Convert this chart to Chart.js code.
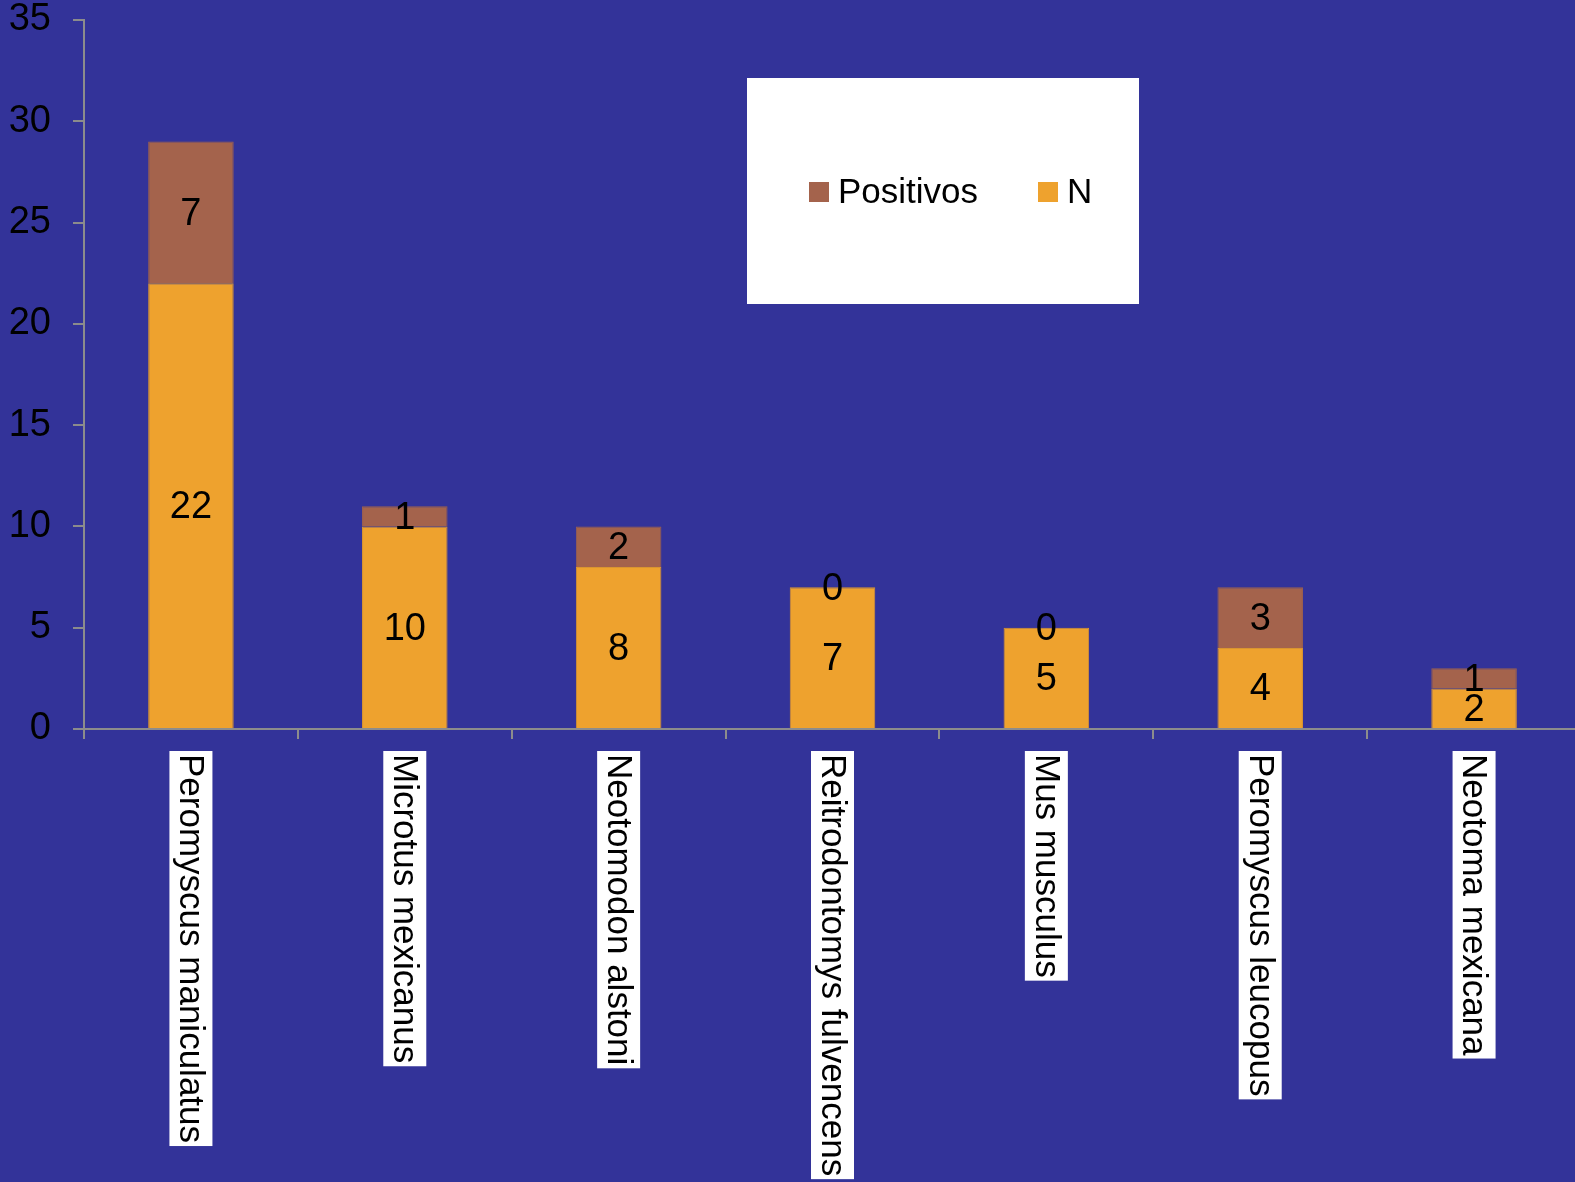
<!DOCTYPE html>
<html>
<head>
<meta charset="utf-8">
<script src="https://cdn.jsdelivr.net/npm/chart.js@4/dist/chart.umd.min.js"></script>
<style>
  html, body { margin: 0; padding: 0; background: #333399; overflow: hidden; }
  canvas { display: block; }
</style>
</head>
<body>
<canvas id="chart" width="1581" height="1182"></canvas>
<script>
// Rodent species sampled, stacked N + positives

const species = [
  'Peromyscus maniculatus',
  'Microtus mexicanus',
  'Neotomodon alstoni',
  'Reitrodontomys fulvencens',
  'Mus musculus',
  'Peromyscus leucopus',
  'Neotoma mexicana'
];
const nValues = [22, 10, 8, 7, 5, 4, 2];
const positivos = [7, 1, 2, 0, 0, 3, 1];
const yTicks = [0, 5, 10, 15, 20, 25, 30, 35];

const FONT = '"Liberation Sans", Arial, sans-serif';
const AXIS_GREY = '#8c8c8c';

// value labels centred in each stacked segment
const valueLabels = {
  id: 'valueLabels',
  afterDatasetsDraw(chart) {
    const ctx = chart.ctx;
    ctx.save();
    ctx.font = '38px ' + FONT;
    ctx.fillStyle = '#000';
    ctx.textAlign = 'center';
    ctx.textBaseline = 'middle';
    chart.data.datasets.forEach((ds, i) => {
      chart.getDatasetMeta(i).data.forEach((bar, j) => {
        const mid = (bar.y + bar.base) / 2;
        ctx.fillText(String(ds.data[j]), bar.x, mid + 2);
      });
    });
    ctx.restore();
  }
};

// species names, turned to read downwards on white strips
const categoryLabels = {
  id: 'categoryLabels',
  afterDraw(chart) {
    const ctx = chart.ctx;
    const xScale = chart.scales.x;
    const top = xScale.top + 22;
    const pad = 3;
    const h = 43;
    ctx.save();
    ctx.font = '35px ' + FONT;
    ctx.textBaseline = 'middle';
    ctx.textAlign = 'left';
    chart.data.labels.forEach((label, i) => {
      const x = xScale.getPixelForValue(i);
      const w = ctx.measureText(label).width + pad * 2;
      ctx.save();
      ctx.translate(x, top);
      ctx.rotate(Math.PI / 2);
      ctx.fillStyle = '#fff';
      ctx.fillRect(0, -h / 2, w, h);
      ctx.fillStyle = '#000';
      ctx.fillText(label, pad, 1);
      ctx.restore();
    });
    ctx.restore();
  }
};

// boxed legend sitting inside the plot
const boxLegend = {
  id: 'boxLegend',
  afterDraw(chart) {
    const ctx = chart.ctx;
    const bx = 747, by = 78, bw = 392, bh = 226;
    ctx.save();
    ctx.fillStyle = '#fff';
    ctx.fillRect(bx, by, bw, bh);
    ctx.font = '35px ' + FONT;
    ctx.textBaseline = 'middle';
    ctx.textAlign = 'left';
    const items = chart.data.datasets.slice().reverse();
    const xs = [809, 1038];
    const cy = by + 114;
    items.forEach((ds, k) => {
      ctx.fillStyle = ds.backgroundColor;
      ctx.fillRect(xs[k], cy - 10, 20, 20);
      ctx.fillStyle = '#000';
      ctx.fillText(ds.label, xs[k] + 29, cy + 1);
    });
    ctx.restore();
  }
};

new Chart(document.getElementById('chart'), {
  type: 'bar',
  data: {
    labels: species,
    datasets: [
      {
        label: 'N',
        data: nValues,
        backgroundColor: '#EEA22E',
        borderColor: '#D99530',
        borderWidth: 1,
        barPercentage: 0.4,
        categoryPercentage: 1.0
      },
      {
        label: 'Positivos',
        data: positivos,
        backgroundColor: '#A4634C',
        borderColor: '#9A6050',
        borderWidth: 1,
        barPercentage: 0.4,
        categoryPercentage: 1.0
      }
    ]
  },
  options: {
    responsive: false,
    animation: false,
    layout: { padding: { top: 20, left: 0, right: 0, bottom: 0 } },
    plugins: {
      legend: { display: false },
      tooltip: { enabled: false }
    },
    scales: {
      x: {
        stacked: true,
        afterFit(scale) {
          scale.height = 453;
          scale.paddingLeft = 0;
          scale.paddingRight = 0;
        },
        grid: {
          offset: true,
          drawOnChartArea: false,
          drawTicks: true,
          tickLength: 10,
          color: AXIS_GREY,
          lineWidth: 2
        },
        border: { color: AXIS_GREY, width: 2 },
        ticks: { callback: () => '', padding: 0 }
      },
      y: {
        stacked: true,
        min: 0,
        max: 35,
        afterFit(scale) {
          scale.width = 84;
          scale.paddingTop = 0;
          scale.paddingBottom = 0;
        },
        afterBuildTicks(scale) {
          scale.ticks = yTicks.map(v => ({ value: v }));
        },
        grid: {
          drawOnChartArea: false,
          drawTicks: true,
          tickLength: 11,
          color: AXIS_GREY,
          lineWidth: 2
        },
        border: { color: AXIS_GREY, width: 2 },
        ticks: {
          color: '#000',
          font: { family: FONT, size: 38 },
          padding: 22
        }
      }
    }
  },
  plugins: [valueLabels, categoryLabels, boxLegend]
});
</script>
</body>
</html>
